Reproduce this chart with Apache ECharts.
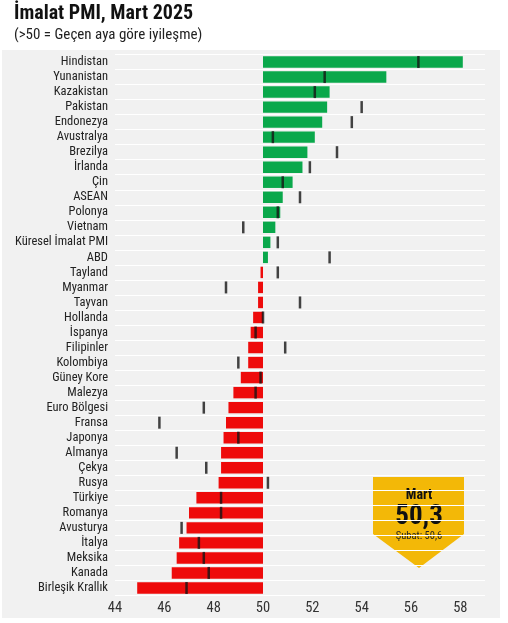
<!DOCTYPE html>
<html>
<head>
<meta charset="utf-8">
<script src="https://cdn.jsdelivr.net/npm/echarts@6/dist/echarts.min.js"></script>
<style>
  html, body { margin: 0; padding: 0; background: #fff; }
  #chart { width: 508px; height: 623px; }
</style>
</head>
<body>
<div id="chart"></div>
<script>
// Manufacturing PMI by economy, March 2025 (bars) vs. February 2025 (ticks)
const categories = ['Hindistan', 'Yunanistan', 'Kazakistan', 'Pakistan', 'Endonezya', 'Avustralya',
  'Brezilya', 'İrlanda', 'Çin', 'ASEAN', 'Polonya', 'Vietnam', 'Küresel İmalat PMI', 'ABD',
  'Tayland', 'Myanmar', 'Tayvan', 'Hollanda', 'İspanya', 'Filipinler', 'Kolombiya', 'Güney Kore',
  'Malezya', 'Euro Bölgesi', 'Fransa', 'Japonya', 'Almanya', 'Çekya', 'Rusya', 'Türkiye',
  'Romanya', 'Avusturya', 'İtalya', 'Meksika', 'Kanada', 'Birleşik Krallık'];
const march = [58.1, 55.0, 52.7, 52.6, 52.4, 52.1, 51.8, 51.6, 51.2, 50.8, 50.7, 50.5, 50.3, 50.2,
  49.9, 49.8, 49.8, 49.6, 49.5, 49.4, 49.4, 49.1, 48.8, 48.6, 48.5, 48.4, 48.3, 48.3, 48.2, 47.3,
  47.0, 46.9, 46.6, 46.5, 46.3, 44.9];
const february = [56.3, 52.5, 52.1, 54.0, 53.6, 50.4, 53.0, 51.9, 50.8, 51.5, 50.6, 49.2, 50.6, 52.7,
  50.6, 48.5, 51.5, 50.0, 49.7, 50.9, 49.0, 49.9, 49.7, 47.6, 45.8, 49.0, 46.5, 47.7, 50.2, 48.3,
  48.3, 46.7, 47.4, 47.6, 47.8, 46.9];
const xTicks = [44, 46, 48, 50, 52, 54, 56, 58];
const threshold = 50;
const globalName = 'Küresel İmalat PMI';

const FONT = "'Liberation Sans Narrow', 'Roboto Condensed', 'Liberation Sans', sans-serif";
const GREEN = '#0aa84b';
const RED = '#ee0b0b';
const YELLOW = '#f3b807';

const fmt = v => v.toFixed(1).replace('.', ',');
const gi = categories.indexOf(globalName);

const chart = echarts.init(document.getElementById('chart'), null, { renderer: 'canvas' });

chart.setOption({
  animation: false,
  backgroundColor: '#ffffff',
  grid: { left: 115, right: 23, top: 54.5, bottom: 27.5, containLabel: false },
  xAxis: {
    type: 'value',
    min: xTicks[0],
    max: 59,
    interval: 2,
    axisLine: { show: false },
    axisTick: { show: false },
    splitLine: { show: false },
    axisLabel: {
      showMaxLabel: false,
      color: '#333',
      fontSize: 14.5,
      fontFamily: FONT,
      margin: 5,
      formatter: v => (xTicks.includes(v) ? String(v) : '')
    }
  },
  yAxis: {
    type: 'category',
    data: categories,
    inverse: true,
    axisLine: { show: false },
    axisTick: { show: false },
    splitLine: { show: true, lineStyle: { color: '#ffffff', width: 1 } },
    axisLabel: { interval: 0, color: '#222', fontSize: 12.5, fontFamily: FONT, margin: 7 }
  },
  graphic: [
    {
      type: 'rect', z: -10, silent: true,
      shape: { x: 2, y: 50, width: 498, height: 568 },
      style: { fill: '#f1f1f1' }
    },
    {
      type: 'text', left: 14, top: 4,
      style: { text: 'İmalat PMI, Mart 2025', fill: '#111', font: `bold 20px ${FONT}` }
    },
    {
      type: 'text', left: 14, top: 28,
      style: { text: '(>50 = Geçen aya göre iyileşme)', fill: '#222', font: `15px ${FONT}` }
    },
    {
      type: 'group', left: 373, top: 477, z: 20,
      children: [
        {
          type: 'polygon',
          shape: { points: [[0, 0], [91, 0], [91, 57], [46, 91], [0, 57]] },
          style: { fill: YELLOW }
        },
        {
          type: 'text', x: 46, y: 18,
          style: { text: 'Mart', fill: '#111', font: `bold 14px ${FONT}`, align: 'center', verticalAlign: 'middle' }
        },
        {
          type: 'text', x: 46, y: 40,
          style: { text: fmt(march[gi]), fill: '#111', font: `bold 27px ${FONT}`, align: 'center', verticalAlign: 'middle' }
        },
        {
          type: 'text', x: 46, y: 59,
          style: { text: 'Şubat: ' + fmt(february[gi]), fill: '#222', font: `10.5px ${FONT}`, align: 'center', verticalAlign: 'middle' }
        }
      ]
    }
  ],
  series: [
    {
      name: 'Mart',
      type: 'custom',
      data: march.map((v, i) => [v, i]),
      renderItem: (params, api) => {
        const v = api.value(0);
        const i = api.value(1);
        const p0 = api.coord([threshold, i]);
        const p1 = api.coord([v, i]);
        const h = api.size([0, 1])[1] * 0.76;
        const x = Math.min(p0[0], p1[0]);
        const w = Math.abs(p1[0] - p0[0]);
        return {
          type: 'rect',
          shape: { x: x, y: p0[1] - h / 2, width: w, height: h },
          style: { fill: v >= threshold ? GREEN : RED }
        };
      },
      z: 2
    },
    {
      name: 'Şubat',
      type: 'scatter',
      data: february.map((v, i) => [v, i]),
      symbol: 'rect',
      symbolSize: [2.5, 12],
      itemStyle: { color: '#151515' },
      z: 3
    }
  ]
});
</script>
</body>
</html>
